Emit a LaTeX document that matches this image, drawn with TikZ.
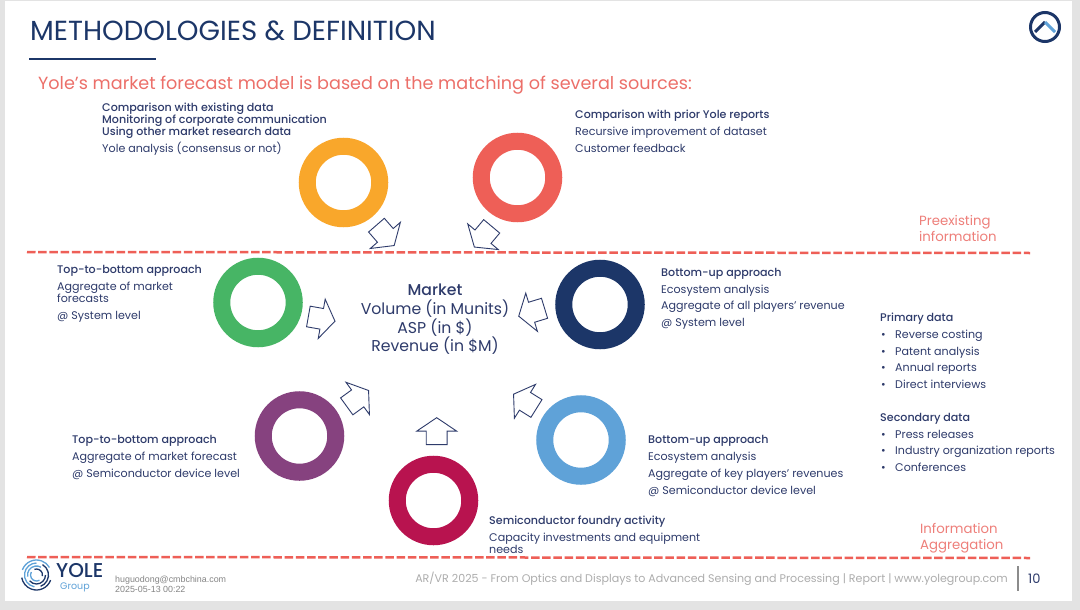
\documentclass[tikz,border=0pt]{standalone}
\usepackage{xcolor}
\usepackage{fontspec}
\setmainfont{Poppins}
\newfontfamily\medfont{Poppins Medium}
\newfontfamily\stampfont{Liberation Sans}
\usetikzlibrary{shapes.arrows}
\definecolor{yolenavy}{HTML}{1C3668}
\definecolor{yoletext}{HTML}{2E3B6B}
\definecolor{yolered}{HTML}{EE5F57}
\definecolor{yolesalmon}{HTML}{EE7F7A}
\definecolor{yolecoral}{HTML}{EC6F69}
\definecolor{yoleblue}{HTML}{5FA2D8}
\definecolor{yoleorange}{HTML}{F9A72B}
\definecolor{yolegreen}{HTML}{47B565}
\definecolor{yolepurple}{HTML}{86427F}
\definecolor{yolecrimson}{HTML}{B8134F}
\newcommand{\tightlines}{\lineskiplimit=-10pt\relax}
\begin{document}
\begin{tikzpicture}[
    x=1pt,y=-1pt,
    ring/.style={
        circle,draw=#1,fill=white,
        line width=17pt,
        minimum size=72.5pt,
        inner sep=0pt
    },
    blockarrow/.style={
        single arrow,draw=yoletext,fill=white,
        line width=0.9pt,
        text width=0pt,
        text height=20pt,
        text depth=0pt,
        minimum height=27pt,
        inner sep=0pt,
        single arrow head extend=9.5pt,
        single arrow tip angle=112
    },
    note/.style={
        anchor=base west,align=left,inner sep=0pt,
        text=yoletext,
        font=\fontsize{11.1}{12}\selectfont\tightlines
    },
    bullets/.style={
        note,
        font=\fontsize{11.1}{16.7}\selectfont\tightlines
    },
    zone/.style={
        anchor=base west,align=left,inner sep=0pt,
        text=yolesalmon,
        font=\fontsize{13.3}{16}\selectfont
    },
    divider/.style={
        draw=yolered,line width=2.5pt,
        dash pattern=on 8.5pt off 2.7pt
    }
]
\useasboundingbox (0,0) rectangle (1080,610);
\fill[black!11] (0,0) rectangle (1080,610);
\fill[white] (5,1) rectangle (1072,601);

\node[anchor=base west,inner sep=0pt,text=yolenavy,font=\fontsize{27.6}{30}\selectfont] (title) at (30,41) {METHODOLOGIES \& DEFINITION};
\coordinate (ruleleft) at (29,59);
\coordinate (ruleright) at (156,59);
\draw[yolenavy,line width=2pt] (ruleleft) -- (ruleright);
\node[anchor=base west,inner sep=0pt,text=yolecoral,font=\fontsize{17.6}{22}\selectfont] (subtitle) at (38,90) {Yole’s market forecast model is based on the matching of several sources:};

\draw[yolenavy,line width=3pt] (1045,27) circle (14.5);
\draw[yolenavy,line width=3pt] (1035,32) -- (1045,22);
\draw[yoleblue,line width=3pt] (1045,22) -- (1055,32);

\coordinate (topleft) at (27,252);
\coordinate (topright) at (1030,253);
\coordinate (bottomleft) at (27,557);
\coordinate (bottomright) at (1030,558);
\draw[divider] (topleft) -- (topright);
\draw[divider] (bottomleft) -- (bottomright);

\node[ring=yoleorange] (orange) at (343.5,182.5) {};
\node[ring=yolered] (red) at (517.5,177.5) {};
\node[ring=yolegreen] (green) at (258,302.5) {};
\node[ring=yolenavy] (navy) at (600,304.5) {};
\node[ring=yolepurple] (purple) at (299.5,436) {};
\node[ring=yoleblue] (blue) at (581,440) {};
\node[ring=yolecrimson] (crimson) at (433.5,500.5) {};

\node[blockarrow,rotate=-49] (orangearrow) at (383,232.7) {};
\node[blockarrow,rotate=230] (redarrow) at (485.3,234) {};
\node[blockarrow,rotate=-10] (greenarrow) at (318.2,318.2) {};
\node[blockarrow,rotate=197] (navyarrow) at (535,311.2) {};
\node[blockarrow,rotate=36] (purplearrow) at (354.8,400.5) {};
\node[blockarrow,rotate=148] (bluearrow) at (528,403.2) {};
\node[blockarrow,rotate=90] (crimsonarrow) at (436.7,434.7) {};

\node[align=center,inner sep=0pt,text=yoletext,font=\fontsize{15.7}{18.7}\selectfont\tightlines] (market) at (435,319.5) {{\medfont Market}\\Volume (in Munits)\\ASP (in \$)\\Revenue (in \$M)};

\node[note] (orangenote) at (102,152) {{\medfont Comparison with existing data}\\{\medfont Monitoring of corporate communication}\\{\medfont Using other market research data}\\[4.7pt]Yole analysis (consensus or not)};
\node[note] (rednote) at (575,152) {{\medfont Comparison with prior Yole reports}\\[4.7pt]Recursive improvement of dataset\\[4.7pt]Customer feedback};
\node[note] (greennote) at (57,319) {{\medfont Top-to-bottom approach}\\[4.7pt]Aggregate of market\\forecasts\\[4.7pt]@ System level};
\node[note] (navynote) at (661,326.5) {{\medfont Bottom-up approach}\\[4.7pt]Ecosystem analysis\\[4.7pt]Aggregate of all players’ revenue\\[4.7pt]@ System level};
\node[note] (purplenote) at (72,477) {{\medfont Top-to-bottom approach}\\[4.7pt]Aggregate of market forecast\\[4.7pt]@ Semiconductor device level};
\node[note] (bluenote) at (648,494) {{\medfont Bottom-up approach}\\[4.7pt]Ecosystem analysis\\[4.7pt]Aggregate of key players’ revenues\\[4.7pt]@ Semiconductor device level};
\node[note] (crimsonnote) at (489,553) {{\medfont Semiconductor foundry activity}\\[4.7pt]Capacity investments and equipment\\needs};

\node[bullets] (primary) at (880,388.5) {{\medfont Primary data}\\\hspace*{1pt}\makebox[14pt][l]{•}Reverse costing\\\hspace*{1pt}\makebox[14pt][l]{•}Patent analysis\\\hspace*{1pt}\makebox[14pt][l]{•}Annual reports\\\hspace*{1pt}\makebox[14pt][l]{•}Direct interviews};
\node[bullets] (secondary) at (880,471.5) {{\medfont Secondary data}\\\hspace*{1pt}\makebox[14pt][l]{•}Press releases\\\hspace*{1pt}\makebox[14pt][l]{•}Industry organization reports\\\hspace*{1pt}\makebox[14pt][l]{•}Conferences};

\node[zone] (preexisting) at (919,241.5) {Preexisting\\information};
\node[zone] (aggregation) at (920,549) {Information\\Aggregation};

\foreach \rad/\start/\sweep/\shade in {15/20/150/yolenavy,15/200/130/yoleblue,12/100/170/yoleblue,12/300/130/yolenavy,9/0/140/yolenavy,9/170/130/yoleblue,6/60/150/yoleblue,6/250/120/yolenavy}{
    \draw[\shade,line width=1.3pt] (36.5,575) ++(\start:\rad) arc[start angle=\start,delta angle=\sweep,radius=\rad];
}
\node[anchor=base west,inner sep=0pt,text=yolenavy,font=\medfont\fontsize{20}{22}\selectfont] (yolemark) at (56,577.5) {YOLE};
\node[anchor=base west,inner sep=0pt,text=yoleblue,font=\fontsize{9.5}{11}\selectfont] (groupmark) at (60,589) {Group};

\node[anchor=base west,align=left,inner sep=0pt,text=black!48,font=\stampfont\fontsize{8.9}{10}\selectfont] (stamp) at (115,592) {huguodong@cmbchina.com\\2025-05-13 00:22};
\node[anchor=base east,inner sep=0pt,text=black!32,font=\fontsize{11.08}{12}\selectfont] (footer) at (1008,582) {AR/VR 2025 - From Optics and Displays to Advanced Sensing and Processing | Report | www.yolegroup.com};
\coordinate (bartop) at (1018,566);
\coordinate (barbottom) at (1018,591);
\draw[black!45,line width=1.8pt] (bartop) -- (barbottom);
\node[anchor=base west,inner sep=0pt,text=yoletext,font=\fontsize{13}{15}\selectfont] (pagenum) at (1028,583) {10};
\end{tikzpicture}
\end{document}
